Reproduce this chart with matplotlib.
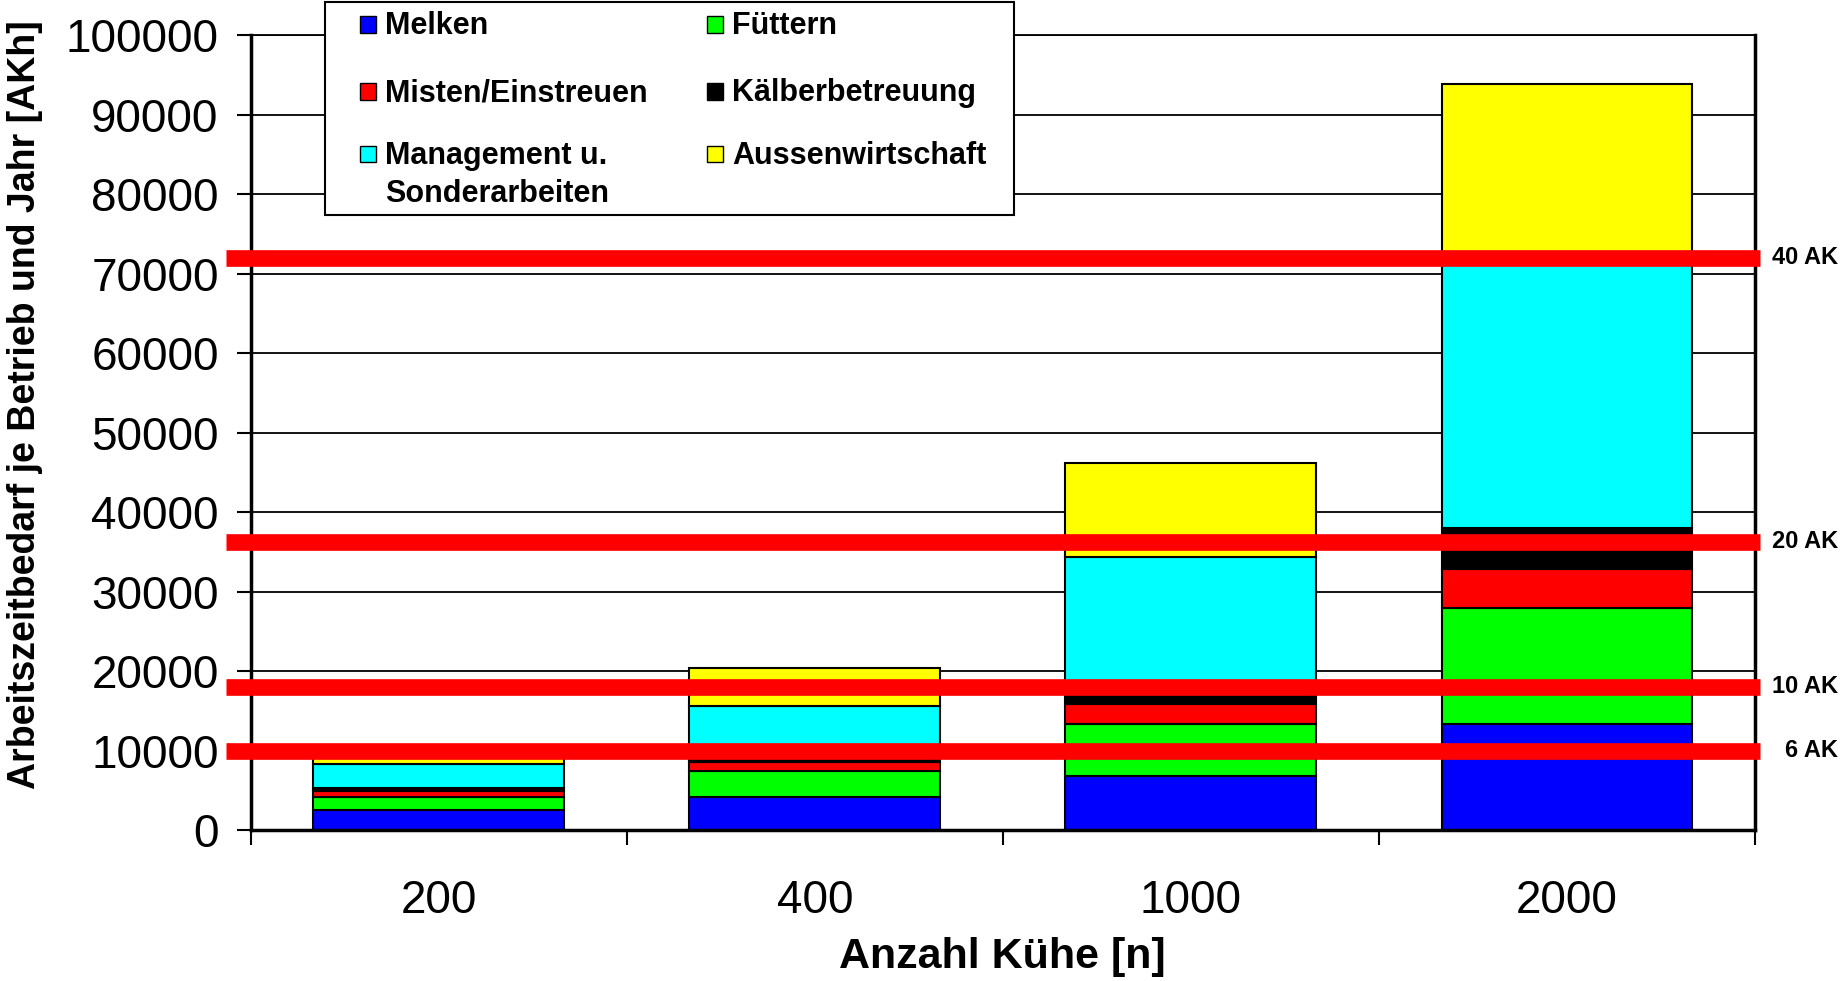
import matplotlib
matplotlib.use("Agg")
import matplotlib.pyplot as plt
from matplotlib.patches import Rectangle
import numpy as np

plt.rcParams['font.family'] = ['Liberation Sans', 'DejaVu Sans']

# data (AKh per farm and year)
herds = ['200', '400', '1000', '2000']
melken = [2500, 4200, 6830, 13340]
fuettern = [1700, 3250, 6470, 14560]
misten = [650, 1150, 2550, 4900]
kaelber = [400, 600, 1650, 5160]
management = [3050, 6450, 16900, 34040]
aussen = [900, 4700, 11750, 21870]

series_names = ['Melken', 'Füttern', 'Misten/Einstreuen', 'Kälberbetreuung',
                'Management u.\nSonderarbeiten', 'Aussenwirtschaft']
series_colors = ['#0000ff', '#00ff00', '#ff0000', '#000000', '#00ffff', '#ffff00']

ak_labels = ['6 AK', '10 AK', '20 AK', '40 AK']
ak_hours = [10000, 18000, 36300, 72000]

W, H = 1845, 981
fig = plt.figure(figsize=(W / 100, H / 100), dpi=100)
ax = fig.add_axes([250.6 / W, 1 - 830 / H, (1755 - 250.6) / W, (830 - 35.3) / H])

x = np.arange(len(herds))
bottom = np.zeros(len(herds))
for vals, col in zip([melken, fuettern, misten, kaelber, management, aussen], series_colors):
    ax.bar(x, vals, width=2 / 3, bottom=bottom, color=col, edgecolor='black',
           linewidth=1.5, zorder=2)
    bottom += np.array(vals)

# AK reference lines
for lab, val in zip(ak_labels, ak_hours):
    ax.axhline(val, xmin=-0.0164, xmax=1.0035, color='#ff0000', lw=12,
               solid_capstyle='butt', clip_on=False, zorder=4)
    ax.text(1.0552, val, lab, transform=ax.get_yaxis_transform(), ha='right',
            va='center', fontsize=17, fontweight='bold')

ax.set_xlim(-0.5, 3.5)
ax.set_ylim(0, 100000)
ax.set_yticks(np.arange(0, 100001, 10000))
ax.set_yticklabels([str(v) for v in range(0, 100001, 10000)])
ax.yaxis.grid(True, color='black', lw=1.3, zorder=0)
ax.set_axisbelow(True)
ax.tick_params(axis='y', direction='out', length=10, width=1.5, pad=13, labelsize=33)

ax.set_xticks(x)
ax.set_xticklabels(herds)
ax.set_xticks(np.arange(-0.5, 4, 1), minor=True)
ax.tick_params(axis='x', which='major', length=0, pad=35, labelsize=33)
ax.tick_params(axis='x', which='minor', direction='out', length=11, width=1.5)

for s in ['left', 'right', 'bottom']:
    ax.spines[s].set_linewidth(2.5)
ax.spines['top'].set_linewidth(1.3)

ax.set_xlabel('Anzahl Kühe [n]', fontsize=31, fontweight='bold', va='center')
ax.xaxis.set_label_coords(0.5, (830 - 957) / (830 - 35.3))
ax.set_ylabel('Arbeitszeitbedarf je Betrieb und Jahr [AKh]', fontsize=27,
              fontweight='bold', va='center')
ax.yaxis.set_label_coords((25 - 250.6) / (1755 - 250.6), (830 - 405) / (830 - 35.3))

# legend box drawn in figure pixels
def fx(px):
    return px / W

def fy(py):
    return 1 - py / H

fig.add_artist(Rectangle((fx(325), fy(215)), fx(1014) - fx(325), fy(2) - fy(215),
                         transform=fig.transFigure, facecolor='white',
                         edgecolor='black', lw=1.5, zorder=5))
leg_pos = [(360, 24), (707, 24), (360, 91), (707, 91), (360, 153.5), (707, 153.5)]
for (px, py), name, col in zip(leg_pos, series_names, series_colors):
    fig.add_artist(Rectangle((fx(px), fy(py + 8.5)), fx(16), 16 / H,
                             transform=fig.transFigure, facecolor=col,
                             edgecolor='black', lw=1, zorder=6))
    for i, line in enumerate(name.split('\n')):
        fig.text(fx(px + 25), fy(py + 2.5 + i * 37.6), line, ha='left', va='center',
                 fontsize=22, fontweight='bold', zorder=6)

fig.savefig('out.png', dpi=100)
